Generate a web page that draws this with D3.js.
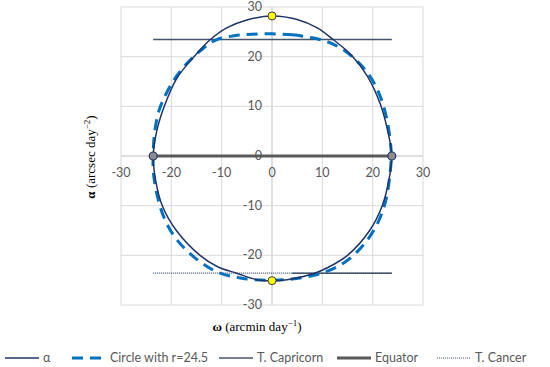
<!DOCTYPE html>
<html>
<head>
<meta charset="utf-8">
<script src="https://cdn.jsdelivr.net/npm/d3@7"></script>
<style>
  body { margin: 0; background: #fff; }
  svg text { font-family: Lato, "Liberation Sans", sans-serif; }
</style>
</head>
<body>
<div id="chart"></div>
<script>
// values, [omega, alpha]
const alphaCurve = [
  [0, 28.2], [5, 27.5], [9, 25.8], [12.2, 23.4], [15.8, 20.3], [19, 16], [21.5, 10.5],
  [23, 5], [23.8, 0], [23.2, -5], [21.9, -10], [19.4, -15], [15, -20], [11, -22.5],
  [8.2, -23.7], [3, -24.9], [0, -25.1], [-3, -24.9], [-7, -23.6], [-10.8, -22.3],
  [-14.3, -20], [-19, -15], [-21.8, -10], [-23.1, -5], [-23.6, 0], [-22.9, 5],
  [-21.4, 10], [-19, 15.5], [-15.5, 20], [-12.3, 23.4], [-9, 25.8], [-5, 27.4]
]
const circleCurve = [
  [0, 24.6], [4, 24.4], [8, 23.8], [11, 23], [14, 21.5], [17, 19], [19.5, 16], [21.5, 12],
  [22.9, 7], [23.6, 2], [23.7, 0], [23.4, -4], [22.6, -9], [21, -13.5], [18.5, -17.5],
  [15, -21], [11, -23.2], [6, -24.5], [0, -25], [-6, -24.6], [-11, -23.3], [-15.3, -20.5],
  [-18.8, -17], [-21.2, -13], [-22.8, -8], [-23.6, -3], [-23.6, 0], [-23.4, 4], [-22.5, 9],
  [-20.8, 13], [-18.3, 17], [-15, 20.5], [-11.3, 23.3], [-7.5, 24.2], [-4, 24.5]
]
const capricorn = [[[-23.6, 23.44], [23.8, 23.44]], [[4, -23.6], [23.8, -23.6]]]
const equator = [[-23.6, 0], [23.8, 0]]
const cancer = [[-23.6, -23.6], [23.8, -23.6]]
const solsticePts = [[0, 28.2], [0, -25.1]]
const equinoxPts = [[-23.6, 0], [23.8, 0]]
const ticks = [-30, -20, -10, 0, 10, 20, 30]

const legendItems = [
  { name: "α", x: 5, color: "#1F3468", width: 1.5, dash: null },
  { name: "Circle with r=24.5", x: 72, color: "#0070C0", width: 3, dash: "11,7" },
  { name: "T. Capricorn", x: 219, color: "#44546A", width: 1.5, dash: null },
  { name: "Equator", x: 337, color: "#595959", width: 3, dash: null },
  { name: "T. Cancer", x: 437, color: "#44546A", width: 1, dash: "1,1" }
]

const width = 550, height = 367

const x = d3.scaleLinear().domain([-30, 30]).range([121, 423])
const y = d3.scaleLinear().domain([-30, 30]).range([305, 7])

const svg = d3.select("#chart").append("svg")
  .attr("width", width)
  .attr("height", height)

// grid
svg.append("g").selectAll("line").data(ticks).enter().append("line")
  .attr("x1", d => x(d)).attr("x2", d => x(d))
  .attr("y1", y(30)).attr("y2", y(-30))
  .attr("stroke", d => d == 0 ? "#bfbfbf" : "#d9d9d9")
  .attr("stroke-width", 1)
svg.append("g").selectAll("line").data(ticks).enter().append("line")
  .attr("y1", d => y(d)).attr("y2", d => y(d))
  .attr("x1", x(-30)).attr("x2", x(30))
  .attr("stroke", d => d == 0 ? "#bfbfbf" : "#d9d9d9")
  .attr("stroke-width", 1)

// tick labels sit next to the zero axes
svg.append("g").selectAll("text").data(ticks).enter().append("text")
  .attr("x", x(0) - 10)
  .attr("y", d => y(d) + 4)
  .attr("text-anchor", "end")
  .attr("font-size", 12.5)
  .attr("fill", "#595959")
  .text(d => d)
svg.append("g").selectAll("text").data(ticks).enter().append("text")
  .attr("x", d => x(d))
  .attr("y", y(0) + 21)
  .attr("text-anchor", "middle")
  .attr("font-size", 12.5)
  .attr("fill", "#595959")
  .text(d => d)

let line = d3.line().x(d => x(d[0])).y(d => y(d[1]))
let closed = d3.line().x(d => x(d[0])).y(d => y(d[1])).curve(d3.curveCatmullRomClosed.alpha(0.5))

svg.append("path").attr("d", line(equator))
  .attr("stroke", "#595959").attr("stroke-width", 3).attr("fill", "none")
svg.append("path").attr("d", line(cancer))
  .attr("stroke", "#44546A").attr("stroke-width", 1.2).attr("stroke-dasharray", "1,1").attr("fill", "none")
capricorn.forEach(seg => {
  svg.append("path").attr("d", line(seg))
    .attr("stroke", "#44546A").attr("stroke-width", 1.5).attr("fill", "none")
})
svg.append("path").attr("d", closed(circleCurve))
  .attr("stroke", "#0070C0").attr("stroke-width", 3).attr("stroke-dasharray", "11,7")
  .attr("fill", "none")
svg.append("path").attr("d", closed(alphaCurve))
  .attr("stroke", "#1F3468").attr("stroke-width", 1.5).attr("fill", "none")

svg.append("g").selectAll("circle").data(equinoxPts).enter().append("circle")
  .attr("cx", d => x(d[0])).attr("cy", d => y(d[1])).attr("r", 4)
  .attr("fill", "#8c8c8c").attr("stroke", "#1F3468").attr("stroke-width", 1.2)
svg.append("g").selectAll("circle").data(solsticePts).enter().append("circle")
  .attr("cx", d => x(d[0])).attr("cy", d => y(d[1])).attr("r", 4)
  .attr("fill", "#ffff00").attr("stroke", "#404040").attr("stroke-width", 1)

// axis titles
let yt = svg.append("text")
  .attr("transform", "translate(95," + 157 + ") rotate(-90)")
  .attr("text-anchor", "middle")
  .attr("font-size", 13)
  .attr("fill", "#000")
  .style("font-family", "'Liberation Serif', serif")
yt.append("tspan").attr("font-weight", "bold").text("α")
yt.append("tspan").text("  (arcsec day")
yt.append("tspan").attr("font-size", 9).attr("dy", -5).text("−2")
yt.append("tspan").attr("dy", 5).text(")")

let xt = svg.append("text")
  .attr("x", 257).attr("y", 331)
  .attr("text-anchor", "middle")
  .attr("font-size", 13)
  .attr("fill", "#000")
  .style("font-family", "'Liberation Serif', serif")
xt.append("tspan").attr("font-weight", "bold").text("ω")
xt.append("tspan").text(" (arcmin day")
xt.append("tspan").attr("font-size", 9).attr("dy", -5).text("−1")
xt.append("tspan").attr("dy", 5).text(")")

// legend
let lg = svg.append("g").selectAll("g").data(legendItems).enter().append("g")
  .attr("transform", d => "translate(" + d.x + ",358)")
lg.append("line")
  .attr("x1", 0).attr("x2", 34).attr("y1", 0).attr("y2", 0)
  .attr("stroke", d => d.color)
  .attr("stroke-width", d => d.width)
  .attr("stroke-dasharray", d => d.dash)
lg.append("text")
  .attr("x", 38).attr("y", 4)
  .attr("font-size", 12.5)
  .attr("fill", "#595959")
  .text(d => d.name)
</script>
</body>
</html>
